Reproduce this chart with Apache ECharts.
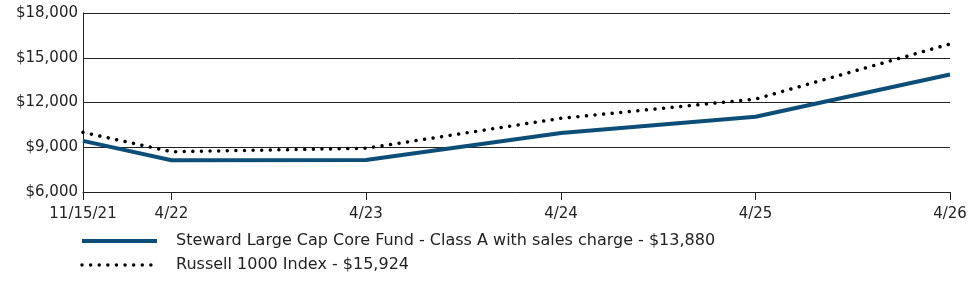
<!DOCTYPE html>
<html><head><meta charset="utf-8">
<script src="https://cdn.jsdelivr.net/npm/echarts@6/dist/echarts.min.js"></script>
<style>html,body{margin:0;padding:0;background:#fff}#c{width:975px;height:281px}</style>
</head><body><div id="c"></div>
<script>
const dates = ['2021-11-15','2022-04-30','2023-04-30','2024-04-30','2025-04-30','2026-04-30'];
const tickLabels = ['11/15/21','4/22','4/23','4/24','4/25','4/26'];
const fundName = 'Steward Large Cap Core Fund - Class A with sales charge - $13,880';
const fundValues = [9425, 8125, 8150, 9950, 11050, 13880];
const indexName = 'Russell 1000 Index - $15,924';
const indexValues = [10000, 8700, 8930, 10940, 12230, 15924];
const yTicks = [6000, 9000, 12000, 15000, 18000];

const ts = dates.map(d => Date.parse(d + 'T00:00:00Z'));
const FONT = 'DejaVu Sans';
const FUND_COLOR = '#0d4e78';
const fundLine = {color:FUND_COLOR,width:4};
const indexLine = {color:'#000',width:3.5,type:[0.01,8.6],cap:'round'};
const chart = echarts.init(document.getElementById('c'), null, {renderer:'canvas'});
chart.setOption({
  animation:false,
  textStyle:{fontFamily:FONT},
  grid:{left:83,right:25,top:13,bottom:89,containLabel:false},
  xAxis:{type:'value',min:ts[0],max:ts[ts.length-1],
    axisLine:{show:true,lineStyle:{color:'#222',width:1}},
    axisTick:{show:true,customValues:ts,length:8,lineStyle:{color:'#222'}},
    axisLabel:{customValues:ts,color:'#222',fontSize:15,fontFamily:FONT,margin:15,
      formatter:v=>tickLabels[ts.indexOf(v)]},
    splitLine:{show:false}},
  yAxis:{type:'value',min:yTicks[0],max:yTicks[yTicks.length-1],interval:3000,
    axisLine:{show:true,lineStyle:{color:'#222',width:1}},
    axisTick:{show:false},
    axisLabel:{color:'#222',fontSize:15,fontFamily:FONT,margin:5,
      formatter:v=>'$'+v.toLocaleString('en-US')},
    splitLine:{show:true,lineStyle:{color:'#222',width:1}}},
  legend:{orient:'vertical',left:80,top:233,padding:0,itemWidth:75,itemHeight:16,itemGap:8,
    itemStyle:{opacity:0},
    textStyle:{fontSize:16,fontFamily:FONT,color:'#222',padding:[0,0,0,14]},
    data:[{name:fundName,lineStyle:fundLine},{name:indexName,lineStyle:indexLine}]},
  series:[
    {name:fundName,type:'line',symbol:'none',data:ts.map((t,i)=>[t,fundValues[i]]),
      lineStyle:fundLine,itemStyle:{color:FUND_COLOR},z:3},
    {name:indexName,type:'line',symbol:'none',data:ts.map((t,i)=>[t,indexValues[i]]),
      lineStyle:indexLine,itemStyle:{color:'#000'},z:4}
  ]
});
</script></body></html>
